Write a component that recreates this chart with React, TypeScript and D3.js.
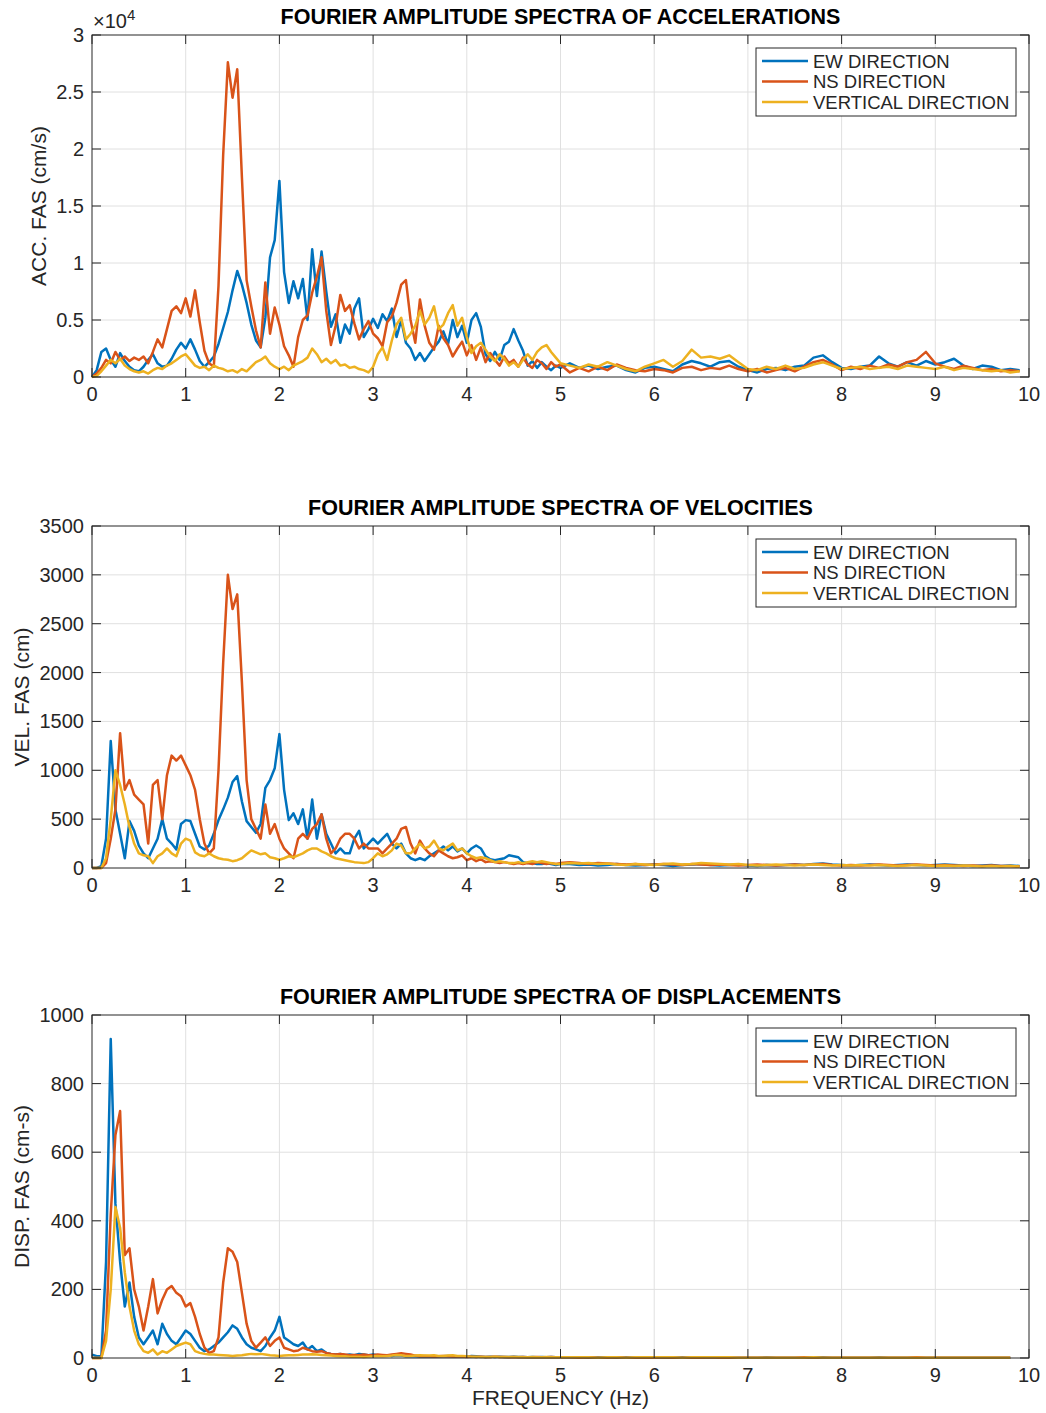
import React from "react";
import * as d3 from "d3";

// ---------- DATA ----------
const FREQ_LOW = [
  0, 0.05, 0.1, 0.15, 0.2, 0.25, 0.3, 0.35, 0.4, 0.45,
  0.5, 0.55, 0.6, 0.65, 0.7, 0.75, 0.8, 0.85, 0.9, 0.95,
  1.0, 1.05, 1.1, 1.15, 1.2, 1.25, 1.3, 1.35, 1.4, 1.45,
  1.5, 1.55, 1.6, 1.65, 1.7, 1.75, 1.8, 1.85, 1.9, 1.95,
  2.0, 2.05, 2.1, 2.15, 2.2, 2.25, 2.3, 2.35, 2.4, 2.45,
  2.5, 2.55, 2.6, 2.65, 2.7, 2.75, 2.8, 2.85, 2.9, 2.95,
  3.0, 3.05, 3.1, 3.15, 3.2, 3.25, 3.3, 3.35, 3.4, 3.45,
  3.5, 3.55, 3.6, 3.65, 3.7, 3.75, 3.8, 3.85, 3.9, 3.95,
  4.0, 4.05, 4.1, 4.15, 4.2, 4.25, 4.3, 4.35, 4.4, 4.45,
  4.5, 4.55, 4.6, 4.65, 4.7, 4.75, 4.8, 4.85, 4.9, 4.95,
  5.0,
];
const FREQ_HIGH = [
  5.1, 5.2, 5.3, 5.4, 5.5, 5.6, 5.7, 5.8, 5.9,
  6.0, 6.1, 6.2, 6.3, 6.4, 6.5, 6.6, 6.7, 6.8, 6.9,
  7.0, 7.1, 7.2, 7.3, 7.4, 7.5, 7.6, 7.7, 7.8, 7.9,
  8.0, 8.1, 8.2, 8.3, 8.4, 8.5, 8.6, 8.7, 8.8, 8.9,
  9.0, 9.1, 9.2, 9.3, 9.4, 9.5, 9.6, 9.7, 9.8, 9.9,
];

// Accelerations FAS (cm/s)
const ACC_EW_LOW = [
  0, 600, 2200, 2500, 1500, 900, 2100, 1400, 900, 600,
  500, 900, 1500, 2000, 1200, 900, 1000, 1600, 2400, 3000,
  2500, 3300, 2400, 1400, 900, 1300, 1800, 2900, 4300, 5700,
  7600, 9300, 8100, 6500, 4600, 3200, 2600, 5200, 10500, 12000,
  17200, 9200, 6500, 8400, 6900, 8600, 5000, 11200, 7100, 11000,
  7500, 4400, 5500, 3000, 4600, 3800, 6000, 6900, 3500, 4200,
  5100, 4300, 5500, 4900, 6000, 3500, 5000, 3000, 2500, 1500,
  2100, 1400, 2000, 2600, 3100, 4000, 2900, 5000, 3500, 4500,
  3000, 5000, 5600, 4400, 2000, 1400, 2200, 1500, 2800, 3100,
  4200, 3200, 2300, 1000, 1400, 800, 1300, 900, 600, 1000,
  800,
];
const ACC_EW_HIGH = [
  1200, 800, 1000, 700, 900, 1000, 600, 400, 800,
  900, 700, 500, 1100, 1400, 1200, 900, 1300, 1400, 900,
  600, 400, 700, 800, 600, 900, 1000, 1700, 1900, 1300,
  800, 700, 900, 1000, 1800, 1200, 900, 1300, 1000, 1400,
  1100, 1300, 1600, 1000, 700, 1000, 900, 600, 700, 600,
];
const ACC_NS_LOW = [
  0, 300, 800, 1500, 1200, 2200, 1500, 1800, 1400, 1700,
  1500, 1800, 1200, 2200, 3300, 2600, 4200, 5800, 6200, 5600,
  6900, 5300, 7600, 4800, 2300, 1200, 900, 8000, 19500, 27600,
  24500, 27000, 17500, 8500, 6200, 4100, 2600, 8300, 3800, 6100,
  4600, 2700, 1900, 900, 3500, 5000, 5400, 7400, 8800, 10500,
  5800, 2800, 4500, 7200, 5800, 6300, 4700, 3300, 4200, 4900,
  3800, 3400, 2700, 4800, 5300, 6500, 8100, 8500, 5000, 3000,
  6800, 4500, 3000, 2400, 4500, 3400, 2800, 1800, 2500, 3100,
  1900, 2800, 1500, 2600, 1300, 2100, 1500, 1000, 1800, 1200,
  1500, 900, 1700, 1100, 800, 1500, 1200, 700, 1300, 900,
  1100,
];
const ACC_NS_HIGH = [
  400, 800, 500, 900, 600, 1100, 800, 600, 500,
  700, 600, 400, 800, 900, 600, 800, 700, 1000, 700,
  500, 700, 400, 600, 800, 500, 900, 1300, 1500, 1100,
  600, 900, 700, 1000, 800, 1100, 900, 1300, 1500, 2200,
  1200, 900, 700, 1000, 800, 600, 700, 500, 600, 500,
];
const ACC_VERT_LOW = [
  0, 100, 500, 1000, 1500, 1200, 1600, 1000, 700, 500,
  400, 500, 300, 600, 800, 700, 1000, 1200, 1500, 1800,
  2000, 1500, 1000, 800, 900, 600, 1000, 800, 700, 500,
  600, 400, 700, 500, 900, 1300, 1500, 1800, 1200, 900,
  700, 900, 600, 1000, 1200, 1400, 1700, 2500, 2000, 1300,
  1600, 1200, 1500, 1000, 1100, 800, 900, 700, 600, 400,
  900, 2000, 2600, 1500, 3200, 4600, 5200, 3300, 3800, 4500,
  5800, 4600, 5200, 6200, 4200, 4600, 5600, 6300, 4500, 5200,
  3500, 2100, 2700, 3000, 2400, 1800, 1400, 2000, 1600, 1000,
  1300, 900, 1500, 2000, 1500, 2200, 2600, 2800, 2200, 1700,
  1200,
];
const ACC_VERT_HIGH = [
  1000, 800, 1100, 900, 1300, 1000, 700, 500, 900,
  1200, 1500, 900, 1400, 2400, 1700, 1800, 1600, 1900, 1300,
  700, 600, 900, 700, 1000, 700, 800, 1100, 1300, 1000,
  700, 800, 900, 700, 800, 900, 700, 1000, 900, 800,
  700, 900, 600, 800, 700, 600, 500, 600, 400, 500,
];

// Velocities FAS (cm)
const VEL_EW_LOW = [
  0, 0, 20, 300, 1300, 600, 350, 100, 480, 380,
  230, 150, 100, 200, 300, 500, 300, 250, 190, 450,
  490, 480, 350, 220, 190, 230, 350, 490, 600, 720,
  880, 940, 680, 480, 420, 360, 450, 820, 900, 1020,
  1370, 800, 490, 560, 450, 600, 300, 700, 300, 550,
  350, 250, 150, 200, 150, 150, 300, 380, 200, 250,
  300, 250, 300, 350, 250, 200, 250, 150, 100, 80,
  100, 80, 120, 150, 180, 220, 180, 220, 170, 200,
  150, 200, 230, 200, 120, 90, 80, 90, 100, 130,
  120, 110, 60, 50, 50, 40, 40, 50, 40, 30,
  40,
];
const VEL_EW_HIGH = [
  40, 30, 35, 25, 30, 40, 30, 25, 30,
  35, 30, 20, 30, 35, 40, 30, 25, 30, 35,
  25, 20, 30, 25, 30, 35, 30, 40, 45, 35,
  30, 25, 30, 35, 30, 25, 30, 35, 30, 25,
  30, 35, 30, 25, 20, 25, 30, 20, 25, 20,
];
const VEL_NS_LOW = [
  0, 0, 0, 50, 300, 600, 1380, 800, 900, 750,
  700, 650, 250, 850, 900, 500, 950, 1150, 1100, 1150,
  1050, 950, 800, 500, 250, 150, 200, 1000, 2100, 3000,
  2650, 2800, 1900, 900, 500, 400, 300, 650, 350, 450,
  300, 200, 150, 100, 300, 350, 300, 400, 450, 550,
  300, 150, 200, 300, 350, 350, 300, 200, 250, 200,
  200, 200, 150, 200, 250, 300, 400, 420, 250, 150,
  280, 200, 150, 120, 180, 150, 120, 100, 110, 130,
  80, 100, 70, 90, 60, 70, 60, 50, 60, 50,
  40, 50, 40, 50, 40, 60, 50, 40, 50, 40,
  50,
];
const VEL_NS_HIGH = [
  60, 50, 40, 50, 45, 40, 35, 40, 30,
  35, 40, 35, 30, 40, 35, 30, 35, 30, 25,
  30, 35, 30, 25, 30, 35, 30, 35, 40, 30,
  25, 30, 25, 30, 35, 30, 25, 30, 35, 30,
  25, 30, 25, 20, 25, 20, 25, 20, 20, 15,
];
const VEL_VERT_LOW = [
  0, 0, 0, 100, 500, 1000, 850, 650, 420, 250,
  150, 130, 120, 50, 120, 150, 200, 150, 120, 250,
  300, 280, 160, 130, 120, 150, 120, 100, 90, 85,
  70, 80, 100, 140, 180, 160, 140, 150, 110, 100,
  85, 100, 120, 110, 130, 150, 180, 200, 200, 170,
  150, 120, 100, 90, 80, 70, 60, 55, 50, 60,
  100, 150, 120, 140, 180, 250, 230, 150, 150, 200,
  250, 200, 220, 280, 200, 180, 220, 250, 180, 200,
  150, 120, 100, 110, 100, 80, 60, 70, 60, 50,
  50, 60, 50, 60, 70, 60, 70, 60, 50, 40,
  40,
];
const VEL_VERT_HIGH = [
  50, 45, 50, 40, 45, 35, 30, 40, 35,
  30, 40, 45, 35, 40, 50, 45, 40, 35, 40,
  30, 25, 30, 35, 30, 25, 30, 35, 30, 25,
  30, 25, 30, 25, 30, 25, 20, 25, 30, 25,
  20, 25, 20, 25, 20, 15, 20, 15, 20, 15,
];

// Displacements FAS (cm-s)
const DISP_EW_LOW = [
  10, 5, 5, 280, 930, 450, 280, 150, 220, 120,
  60, 40, 60, 80, 40, 100, 70, 50, 40, 60,
  80, 70, 50, 30, 20, 25, 35, 45, 60, 75,
  95, 85, 60, 40, 30, 25, 20, 35, 60, 80,
  120, 60, 50, 40, 35, 45, 25, 35, 20, 25,
  15, 12, 10, 12, 8, 10, 8, 12, 10, 8,
  10, 8, 7, 8, 6, 8, 7, 5, 6, 5,
  4, 5, 4, 5, 4, 5, 6, 5, 4, 5,
  4, 6, 5, 4, 3, 4, 3, 4, 3, 3,
  4, 3, 3, 2, 3, 2, 3, 2, 3, 2,
  2,
];
const DISP_EW_HIGH = [
  2, 2, 1, 2, 2, 1, 2, 1, 1,
  2, 1, 1, 2, 1, 1, 2, 1, 1, 1,
  1, 1, 2, 1, 1, 1, 1, 2, 2, 1,
  1, 1, 1, 1, 2, 1, 1, 1, 1, 1,
  1, 1, 1, 1, 1, 1, 1, 1, 1,
];
const DISP_NS_LOW = [
  0, 0, 0, 80, 420, 650, 720, 300, 320, 200,
  150, 80, 150, 230, 130, 170, 200, 210, 190, 180,
  150, 160, 120, 70, 30, 15, 20, 60, 220, 320,
  310, 280, 190, 100, 50, 30, 45, 60, 35, 50,
  60, 30, 25, 20, 22, 30, 25, 20, 18, 20,
  15, 12, 10, 12, 10, 8, 9, 8, 10, 8,
  8, 10, 9, 8, 10, 12, 14, 12, 10, 7,
  5, 6, 5, 4, 5, 6, 5, 4, 5, 4,
  3, 4, 3, 4, 3, 3, 4, 3, 3, 2,
  3, 2, 3, 2, 2, 3, 2, 2, 3, 2,
  2,
];
const DISP_NS_HIGH = [
  2, 1, 2, 1, 1, 2, 1, 1, 1,
  1, 2, 1, 1, 1, 1, 2, 1, 1, 1,
  1, 1, 1, 1, 1, 1, 2, 1, 1, 1,
  1, 1, 1, 1, 1, 1, 1, 1, 2, 1,
  1, 1, 1, 1, 1, 1, 1, 1, 1,
];
const DISP_VERT_LOW = [
  0, 0, 0, 50, 200, 440, 380, 250, 150, 80,
  40, 20, 15, 25, 10, 20, 15, 25, 35, 40,
  45, 40, 20, 15, 12, 10, 10, 9, 8, 7,
  6, 7, 8, 10, 12, 11, 12, 10, 8, 7,
  6, 7, 8, 8, 9, 10, 10, 11, 10, 9,
  8, 7, 6, 5, 5, 4, 4, 4, 3, 4,
  5, 6, 5, 6, 7, 9, 8, 6, 6, 7,
  8, 7, 7, 8, 6, 6, 7, 8, 6, 6,
  5, 4, 4, 3, 3, 3, 4, 3, 3, 3,
  3, 3, 2, 2, 3, 2, 2, 3, 2, 2,
  2,
];
const DISP_VERT_HIGH = [
  2, 2, 2, 1, 2, 2, 1, 2, 2,
  2, 2, 2, 1, 2, 2, 2, 2, 2, 1,
  1, 1, 1, 1, 1, 1, 1, 2, 1, 1,
  1, 1, 1, 1, 1, 1, 1, 1, 1, 1,
  1, 1, 1, 1, 1, 1, 1, 1, 1,
];

const SERIES_NAMES = ["EW DIRECTION", "NS DIRECTION", "VERTICAL DIRECTION"];
const SERIES_COLORS = ["#0072BD", "#D95319", "#EDB120"];
const X_TICKS = [0, 1, 2, 3, 4, 5, 6, 7, 8, 9, 10];
const ACC_TICKS = [0, 5000, 10000, 15000, 20000, 25000, 30000];
const ACC_TICK_LABELS = ["0", "0.5", "1", "1.5", "2", "2.5", "3"];
const VEL_TICKS = [0, 500, 1000, 1500, 2000, 2500, 3000, 3500];
const DISP_TICKS = [0, 200, 400, 600, 800, 1000];

const TITLES = [
  "FOURIER AMPLITUDE SPECTRA OF ACCELERATIONS",
  "FOURIER AMPLITUDE SPECTRA OF VELOCITIES",
  "FOURIER AMPLITUDE SPECTRA OF DISPLACEMENTS",
];
const Y_LABELS = ["ACC. FAS (cm/s)", "VEL. FAS (cm)", "DISP. FAS (cm-s)"];
const X_LABEL = "FREQUENCY (Hz)";

// ---------- LAYOUT ----------
const W = 1046;
const H = 1413;
const LEFT = 92;
const RIGHT = 1029;
const FONT = "'Liberation Sans', Arial, Helvetica, sans-serif";
const AX = "#262626";
const GRID = "#e0e0e0";

const FREQ = [...FREQ_LOW, ...FREQ_HIGH];

type PanelProps = {
  top: number;
  bottom: number;
  yMax: number;
  ticks: number[];
  tickLabels: string[];
  title: string;
  yLabel: string;
  yLabelX: number;
  series: number[][];
  exponent?: boolean;
};

function Panel(p: PanelProps) {
  const x = d3.scaleLinear().domain([0, 10]).range([LEFT, RIGHT]);
  const y = d3.scaleLinear().domain([0, p.yMax]).range([p.bottom, p.top]);
  const line = d3
    .line<[number, number]>()
    .x((d) => x(d[0]))
    .y((d) => y(d[1]));
  const tickLen = 9;
  const legX = 756;
  const legY = p.top + 13;
  const legW = 260;
  const legH = 68;
  return (
    <g>
      {X_TICKS.slice(1, -1).map((t) => (
        <line key={"gx" + t} x1={x(t)} x2={x(t)} y1={p.top} y2={p.bottom} stroke={GRID} strokeWidth={1} />
      ))}
      {p.ticks.slice(1, -1).map((t) => (
        <line key={"gy" + t} x1={LEFT} x2={RIGHT} y1={y(t)} y2={y(t)} stroke={GRID} strokeWidth={1} />
      ))}
      {p.series.map((s, i) => (
        <path
          key={"s" + i}
          d={line(FREQ.map((f, j) => [f, s[j]] as [number, number])) || ""}
          fill="none"
          stroke={SERIES_COLORS[i]}
          strokeWidth={2.5}
          strokeLinejoin="round"
        />
      ))}
      <rect x={LEFT} y={p.top} width={RIGHT - LEFT} height={p.bottom - p.top} fill="none" stroke={AX} strokeWidth={1} />
      {X_TICKS.map((t) => (
        <g key={"xt" + t}>
          <line x1={x(t)} x2={x(t)} y1={p.bottom} y2={p.bottom - tickLen} stroke={AX} />
          <line x1={x(t)} x2={x(t)} y1={p.top} y2={p.top + tickLen} stroke={AX} />
          <text x={x(t)} y={p.bottom + 24} textAnchor="middle" fontSize={20} fill={AX} fontFamily={FONT}>
            {t}
          </text>
        </g>
      ))}
      {p.ticks.map((t, i) => (
        <g key={"yt" + t}>
          <line x1={LEFT} x2={LEFT + tickLen} y1={y(t)} y2={y(t)} stroke={AX} />
          <line x1={RIGHT} x2={RIGHT - tickLen} y1={y(t)} y2={y(t)} stroke={AX} />
          <text x={LEFT - 8} y={y(t)} dy="0.35em" textAnchor="end" fontSize={20} fill={AX} fontFamily={FONT}>
            {p.tickLabels[i]}
          </text>
        </g>
      ))}
      {p.exponent && (
        <text x={LEFT + 1} y={p.top - 7} fontSize={20} fill={AX} fontFamily={FONT}>
          ×10
          <tspan fontSize={15} dy={-8}>
            4
          </tspan>
        </text>
      )}
      <text x={(LEFT + RIGHT) / 2} y={p.top - 11} textAnchor="middle" fontSize={21.5} fontWeight="bold" fill="#000" fontFamily={FONT}>
        {p.title}
      </text>
      <text
        transform={`translate(${p.yLabelX},${(p.top + p.bottom) / 2}) rotate(-90)`}
        textAnchor="middle"
        dy="0.35em"
        fontSize={21}
        fill={AX}
        fontFamily={FONT}
      >
        {p.yLabel}
      </text>
      <rect x={legX} y={legY} width={legW} height={legH} fill="#fff" stroke={AX} strokeWidth={1} />
      {SERIES_NAMES.map((n, i) => {
        const cy = legY + 13 + i * 20.5;
        return (
          <g key={"lg" + i}>
            <line x1={legX + 6} x2={legX + 52} y1={cy} y2={cy} stroke={SERIES_COLORS[i]} strokeWidth={2.5} />
            <text x={legX + 57} y={cy} dy="0.36em" fontSize={18.5} fill={AX} fontFamily={FONT}>
              {n}
            </text>
          </g>
        );
      })}
    </g>
  );
}

export default function App() {
  const acc = [
    [...ACC_EW_LOW, ...ACC_EW_HIGH],
    [...ACC_NS_LOW, ...ACC_NS_HIGH],
    [...ACC_VERT_LOW, ...ACC_VERT_HIGH],
  ];
  const vel = [
    [...VEL_EW_LOW, ...VEL_EW_HIGH],
    [...VEL_NS_LOW, ...VEL_NS_HIGH],
    [...VEL_VERT_LOW, ...VEL_VERT_HIGH],
  ];
  const disp = [
    [...DISP_EW_LOW, ...DISP_EW_HIGH],
    [...DISP_NS_LOW, ...DISP_NS_HIGH],
    [...DISP_VERT_LOW, ...DISP_VERT_HIGH],
  ];
  return (
    <svg
      width={W}
      height={H}
      viewBox={`0 0 ${W} ${H}`}
      style={{ position: "absolute", left: 0, top: 0, background: "#fff" }}
    >
      <rect x={0} y={0} width={W} height={H} fill="#fff" />
      <Panel
        top={35}
        bottom={377}
        yMax={30000}
        ticks={ACC_TICKS}
        tickLabels={ACC_TICK_LABELS}
        title={TITLES[0]}
        yLabel={Y_LABELS[0]}
        yLabelX={39}
        series={acc}
        exponent
      />
      <Panel
        top={526}
        bottom={868}
        yMax={3500}
        ticks={VEL_TICKS}
        tickLabels={VEL_TICKS.map(String)}
        title={TITLES[1]}
        yLabel={Y_LABELS[1]}
        yLabelX={22}
        series={vel}
      />
      <Panel
        top={1015}
        bottom={1358}
        yMax={1000}
        ticks={DISP_TICKS}
        tickLabels={DISP_TICKS.map(String)}
        title={TITLES[2]}
        yLabel={Y_LABELS[2]}
        yLabelX={22}
        series={disp}
      />
      <text x={(LEFT + RIGHT) / 2} y={1405} textAnchor="middle" fontSize={21} fill={AX} fontFamily={FONT}>
        {X_LABEL}
      </text>
    </svg>
  );
}
